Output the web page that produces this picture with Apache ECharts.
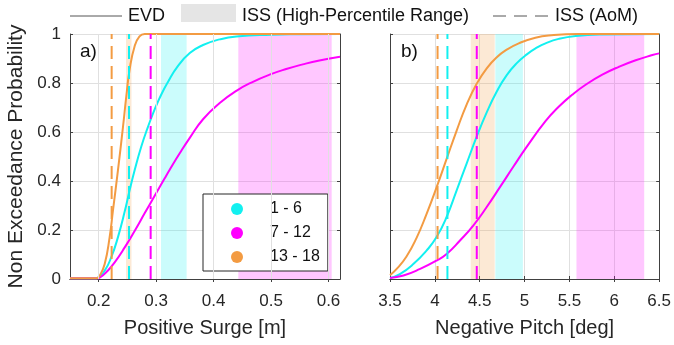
<!DOCTYPE html>
<html>
<head>
<meta charset="utf-8">
<script src="https://cdn.jsdelivr.net/npm/echarts@6/dist/echarts.min.js"></script>
<style>
html,body{margin:0;padding:0;background:#fff;}
#c{width:674px;height:345px;}
</style>
</head>
<body>
<div id="c"></div>
<script>
// ---------------- data ----------------
const groups = ['1 - 6', '7 - 12', '13 - 18'];
const colors = ['#12F0F0', '#FF00FF', '#F39B42'];

const surgeTicks = [0.2, 0.3, 0.4, 0.5, 0.6];
const pitchTicks = [3.5, 4, 4.5, 5, 5.5, 6, 6.5];
const probTicks = [0, 0.2, 0.4, 0.6, 0.8, 1];

// EVD curves, panel a) Positive Surge [m]
const surgeEVD_1_6 = [[0.15,0.003],[0.195,0.003],[0.198,0.004],[0.2104,0.034],[0.2219,0.089],[0.2335,0.171],[0.245,0.273],[0.2538,0.362],[0.2625,0.444],[0.274,0.54],[0.2856,0.62],[0.297,0.69],[0.3087,0.752],[0.3203,0.803],[0.3365,0.865],[0.3585,0.922],[0.3816,0.955],[0.4106,0.978],[0.4396,0.99],[0.5,0.997],[0.55,0.999],[0.62,1]];
const surgeEVD_7_12 = [[0.15,0.003],[0.196,0.003],[0.2017,0.006],[0.2161,0.035],[0.2278,0.068],[0.245,0.128],[0.2625,0.196],[0.2799,0.268],[0.2972,0.339],[0.3146,0.41],[0.3238,0.447],[0.341,0.513],[0.3585,0.576],[0.3816,0.652],[0.4106,0.718],[0.4396,0.768],[0.4685,0.805],[0.4974,0.834],[0.5264,0.857],[0.5552,0.876],[0.5842,0.892],[0.62,0.907]];
const surgeEVD_13_18 = [[0.15,0.003],[0.196,0.003],[0.2017,0.014],[0.2104,0.061],[0.219,0.171],[0.2248,0.28],[0.2335,0.444],[0.2422,0.62],[0.248,0.745],[0.2538,0.855],[0.2625,0.95],[0.271,0.99],[0.28,1],[0.62,1]];
// ISS high-percentile ranges [from, to]
const surgeRange_1_6 = [0.3084, 0.353];
const surgeRange_7_12 = [0.443, 0.6055];
const surgeRange_13_18 = [0.2475, 0.257];
// ISS AoM
const surgeAoM = [0.2527, 0.2904, 0.2225];

// EVD curves, panel b) Negative Pitch [deg]
const pitchEVD_1_6 = [[3.5,0.004],[3.61,0.02],[3.76,0.061],[3.907,0.116],[4.019,0.171],[4.131,0.253],[4.243,0.362],[4.354,0.471],[4.466,0.581],[4.578,0.68],[4.69,0.765],[4.801,0.832],[4.913,0.881],[5.025,0.917],[5.135,0.944],[5.233,0.962],[5.38,0.98],[5.57,0.992],[5.87,0.998],[6.5,1]];
const pitchEVD_7_12 = [[3.5,0.004],[3.65,0.014],[3.836,0.041],[4.019,0.075],[4.131,0.102],[4.28,0.157],[4.43,0.219],[4.578,0.294],[4.727,0.376],[4.876,0.459],[5.025,0.54],[5.233,0.644],[5.38,0.703],[5.53,0.752],[5.68,0.793],[5.866,0.834],[6.05,0.866],[6.238,0.893],[6.424,0.914],[6.5,0.921]];
const pitchEVD_13_18 = [[3.5,0.016],[3.572,0.04],[3.684,0.092],[3.795,0.167],[3.907,0.265],[4.019,0.374],[4.131,0.49],[4.243,0.606],[4.354,0.712],[4.466,0.797],[4.578,0.86],[4.69,0.905],[4.801,0.936],[4.935,0.962],[5.12,0.985],[5.3,0.995],[5.6,1],[6.5,1]];
const pitchRange_1_6 = [4.674, 4.981];
const pitchRange_7_12 = [5.578, 6.333];
const pitchRange_13_18 = [4.40, 4.667];
const pitchAoM = [4.14, 4.467, 4.03];

// ---------------- chart ----------------
const FONT = 'Liberation Sans, Arial, sans-serif';
const AX = '#404040';
const GRIDC = '#e0e0e0';

const chart = echarts.init(document.getElementById('c'), null, {renderer: 'canvas'});

function hexA(hex, a) {
  const r = parseInt(hex.slice(1,3),16), g = parseInt(hex.slice(3,5),16), b = parseInt(hex.slice(5,7),16);
  return `rgba(${r},${g},${b},${a})`;
}

const curvesA = [surgeEVD_1_6, surgeEVD_7_12, surgeEVD_13_18];
const curvesB = [pitchEVD_1_6, pitchEVD_7_12, pitchEVD_13_18];
const rangesA = [surgeRange_1_6, surgeRange_7_12, surgeRange_13_18];
const rangesB = [pitchRange_1_6, pitchRange_7_12, pitchRange_13_18];

const series = [];
// grid lines for panel a) x axis (ticks are not multiples of min)
series.push({
  type: 'line', xAxisIndex: 0, yAxisIndex: 0, data: [], silent: true, z: 1,
  markLine: {silent: true, symbol: 'none', label: {show: false},
    lineStyle: {color: GRIDC, type: 'solid', width: 1},
    data: surgeTicks.map(v => ({xAxis: v}))}
});

function addPanel(curves, ranges, aom, xi) {
  for (let i = 0; i < 3; i++) {
    series.push({
      type: 'line', name: 'range_' + xi + '_' + i, xAxisIndex: xi, yAxisIndex: xi, data: [], silent: true, z: 1,
      markArea: {silent: true, itemStyle: {color: hexA(colors[i], 0.22)},
        data: [[{xAxis: ranges[i][0]}, {xAxis: ranges[i][1]}]]}
    });
  }
  for (let i = 0; i < 3; i++) {
    series.push({
      type: 'line', name: groups[i], xAxisIndex: xi, yAxisIndex: xi, data: curves[i],
      showSymbol: false, symbol: 'circle', smooth: 0.5,
      lineStyle: {color: colors[i], width: 2}, itemStyle: {color: colors[i]}, z: 3
    });
  }
  for (let i = 0; i < 3; i++) {
    series.push({
      type: 'line', name: 'aom_' + xi + '_' + i, xAxisIndex: xi, yAxisIndex: xi,
      data: [[aom[i], 0], [aom[i], 1]], showSymbol: false, silent: true,
      lineStyle: {color: colors[i], width: 2, type: [13, 7]}, z: 4
    });
  }
}
addPanel(curvesA, rangesA, surgeAoM, 0);
addPanel(curvesB, rangesB, pitchAoM, 1);

const axisLineStyle = {lineStyle: {color: AX, width: 1}};
const tickStyle = {show: true, inside: true, length: 3, lineStyle: {color: AX}};
const labelStyle = {color: '#262626', fontFamily: FONT, fontSize: 17};
const nameStyle = {color: '#262626', fontFamily: FONT, fontSize: 20};

const option = {
  animation: false,
  backgroundColor: '#fff',
  grid: [
    {left: 70, top: 34, width: 270, height: 245},
    {left: 390, top: 34, width: 270, height: 245}
  ],
  xAxis: [
    {type: 'value', gridIndex: 0, min: 0.15, max: 0.62, position: 'bottom',
     axisLine: axisLineStyle, axisTick: Object.assign({customValues: surgeTicks}, tickStyle),
     axisLabel: Object.assign({customValues: surgeTicks, margin: 14, formatter: v => String(v)}, labelStyle),
     splitLine: {show: false},
     name: 'Positive Surge [m]', nameLocation: 'middle', nameGap: 39, nameTextStyle: nameStyle},
    {type: 'value', gridIndex: 1, min: 3.5, max: 6.5, interval: 0.5, position: 'bottom',
     axisLine: axisLineStyle, axisTick: tickStyle,
     axisLabel: Object.assign({margin: 14, formatter: v => String(v)}, labelStyle),
     splitLine: {show: true, lineStyle: {color: GRIDC}},
     name: 'Negative Pitch [deg]', nameLocation: 'middle', nameGap: 39, nameTextStyle: nameStyle},
    {type: 'value', gridIndex: 0, min: 0.15, max: 0.62, position: 'top',
     axisLine: axisLineStyle, axisTick: Object.assign({customValues: surgeTicks}, tickStyle),
     axisLabel: {show: false}, splitLine: {show: false}},
    {type: 'value', gridIndex: 1, min: 3.5, max: 6.5, interval: 0.5, position: 'top',
     axisLine: axisLineStyle, axisTick: tickStyle,
     axisLabel: {show: false}, splitLine: {show: false}}
  ],
  yAxis: [
    {type: 'value', gridIndex: 0, min: 0, max: 1, interval: 0.2, position: 'left',
     axisLine: Object.assign({show: true}, axisLineStyle), axisTick: tickStyle,
     axisLabel: Object.assign({margin: 9, formatter: v => String(v)}, labelStyle),
     splitLine: {show: true, lineStyle: {color: GRIDC}},
     name: 'Non Exceedance Probability', nameLocation: 'middle', nameGap: 43,
     nameTextStyle: Object.assign({}, nameStyle, {fontSize: 21})},
    {type: 'value', gridIndex: 1, min: 0, max: 1, interval: 0.2, position: 'left',
     axisLine: Object.assign({show: true}, axisLineStyle), axisTick: tickStyle,
     axisLabel: {show: false},
     splitLine: {show: true, lineStyle: {color: GRIDC}}},
    {type: 'value', gridIndex: 0, min: 0, max: 1, interval: 0.2, position: 'right',
     axisLine: Object.assign({show: true}, axisLineStyle), axisTick: tickStyle,
     axisLabel: {show: false}, splitLine: {show: false}},
    {type: 'value', gridIndex: 1, min: 0, max: 1, interval: 0.2, position: 'right',
     axisLine: Object.assign({show: true}, axisLineStyle), axisTick: tickStyle,
     axisLabel: {show: false}, splitLine: {show: false}}
  ],
  legend: {
    data: groups, orient: 'vertical', left: 203, top: 194,
    icon: 'circle', itemWidth: 12, itemHeight: 12, itemGap: 8,
    padding: [7, 8, 6, 28],
    backgroundColor: '#fff', borderColor: '#262626', borderWidth: 1,
    selectedMode: false,
    textStyle: {color: '#111', fontFamily: FONT, fontSize: 16, padding: [0, 0, 0, 22]}
  },
  graphic: [
    {type: 'text', left: 80, top: 42, style: {text: 'a)', font: '19px ' + FONT, fill: '#111'}},
    {type: 'text', left: 401, top: 42, style: {text: 'b)', font: '19px ' + FONT, fill: '#111'}},
    {type: 'line', shape: {x1: 70, y1: 16, x2: 122, y2: 16}, style: {stroke: '#555', lineWidth: 1}},
    {type: 'text', x: 128, y: 16, style: {text: 'EVD', font: '18px ' + FONT, fill: '#111', verticalAlign: 'middle'}},
    {type: 'rect', shape: {x: 181, y: 4, width: 55, height: 18}, style: {fill: '#e5e5e5'}},
    {type: 'text', x: 242, y: 16, style: {text: 'ISS (High-Percentile Range)', font: '18px ' + FONT, fill: '#111', verticalAlign: 'middle'}},
    {type: 'line', shape: {x1: 493, y1: 16, x2: 548, y2: 16}, style: {stroke: '#555', lineWidth: 1, lineDash: [13, 8]}},
    {type: 'text', x: 555, y: 16, style: {text: 'ISS (AoM)', font: '18px ' + FONT, fill: '#111', verticalAlign: 'middle'}}
  ],
  series: series
};
chart.setOption(option);
</script>
</body>
</html>
